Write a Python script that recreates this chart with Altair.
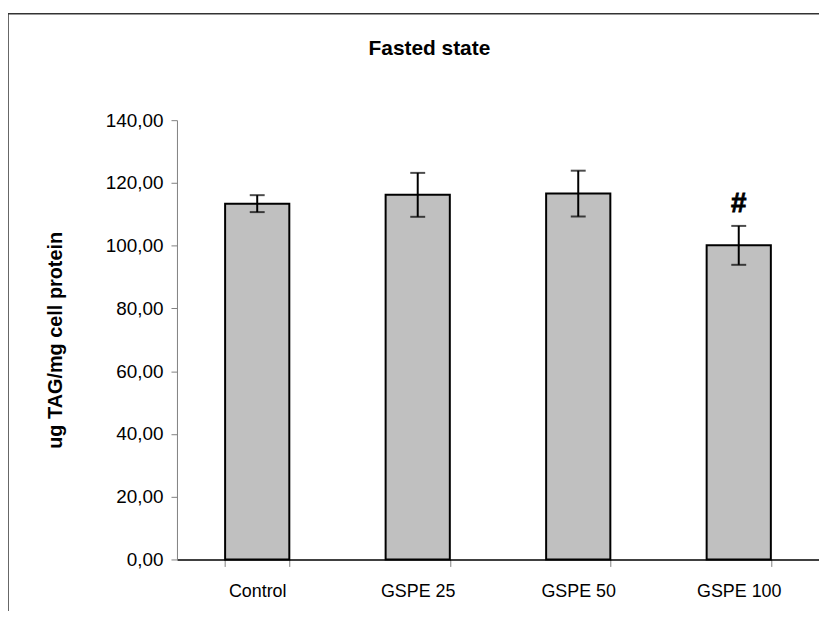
import altair as alt
import pandas as pd

groups = ["Control", "GSPE 25", "GSPE 50", "GSPE 100"]
means = [113.4, 116.2, 116.6, 100.1]
errors = [2.7, 7.0, 7.3, 6.2]
marks = ["", "", "", "#"]

df = pd.DataFrame({
    "group": groups,
    "mean": means,
    "lo": [m - e for m, e in zip(means, errors)],
    "hi": [m + e for m, e in zip(means, errors)],
    "mark": marks,
})

FONT = "Liberation Sans"

x = alt.X(
    "group:N",
    sort=groups,
    scale=alt.Scale(paddingInner=0.6, paddingOuter=0.3),
    axis=alt.Axis(
        title=None, labelAngle=0, labelFont=FONT, labelFontSize=18, labelColor="#000",
        tickBand="extent", tickSize=7, tickColor="#808080", tickWidth=1,
        domainColor="#000", domainWidth=1.5, labelPadding=16,
    ),
)
xs = alt.X("group:N", sort=groups)
y_axis = alt.Axis(
    title="ug TAG/mg cell protein", titleFont=FONT, titleFontSize=20, titleFontWeight="bold",
    titleColor="#000", titlePadding=40,
    values=[0, 20, 40, 60, 80, 100, 120, 140],
    labelExpr="replace(format(datum.value, '.2f'), '.', ',')",
    labelFont=FONT, labelFontSize=19, labelColor="#000", labelPadding=8,
    tickSize=6, tickColor="#808080", domainColor="#808080", grid=False,
)

base = alt.Chart(df)

bars = base.mark_bar(fill="#C0C0C0", stroke="#000", strokeWidth=2).encode(
    x=x,
    y=alt.Y("mean:Q", scale=alt.Scale(domain=[0, 140], nice=False), axis=y_axis),
)
err = base.mark_rule(color="#000", strokeWidth=2).encode(x=xs, y="lo:Q", y2="hi:Q")
caps_hi = base.mark_tick(color="#000", size=15, thickness=2).encode(x=xs, y="hi:Q")
caps_lo = base.mark_tick(color="#000", size=15, thickness=2).encode(x=xs, y="lo:Q")
sig = base.mark_text(font=FONT, fontSize=28, fontWeight="bold", color="#000", dy=-22,
                     stroke="#000", strokeWidth=0.8,
                     baseline="middle").encode(x=xs, y="hi:Q", text="mark:N")

one = alt.Chart(pd.DataFrame({"t": ["Fasted state"]}))
title = one.mark_text(font=FONT, fontSize=21, fontWeight="bold", color="#000",
                      baseline="middle").encode(
    x=alt.value(254), y=alt.value(-72), text="t:N")
frame_v = one.mark_rule(color="#333", strokeWidth=1.5).encode(
    x=alt.value(-170), y=alt.value(-107), y2=alt.value(520))
frame_h = one.mark_rule(color="#333", strokeWidth=1.5).encode(
    x=alt.value(-170), x2=alt.value(700), y=alt.value(-107))

chart = alt.layer(bars, err, caps_hi, caps_lo, sig, title, frame_v, frame_h).properties(
    width=646, height=442,
    autosize=alt.AutoSizeParams(type="none"),
    padding={"left": 170, "top": 111, "right": 0, "bottom": 50},
).configure_view(stroke=None)

chart.save("out.html", embed_options={"renderer": "svg", "actions": False})
